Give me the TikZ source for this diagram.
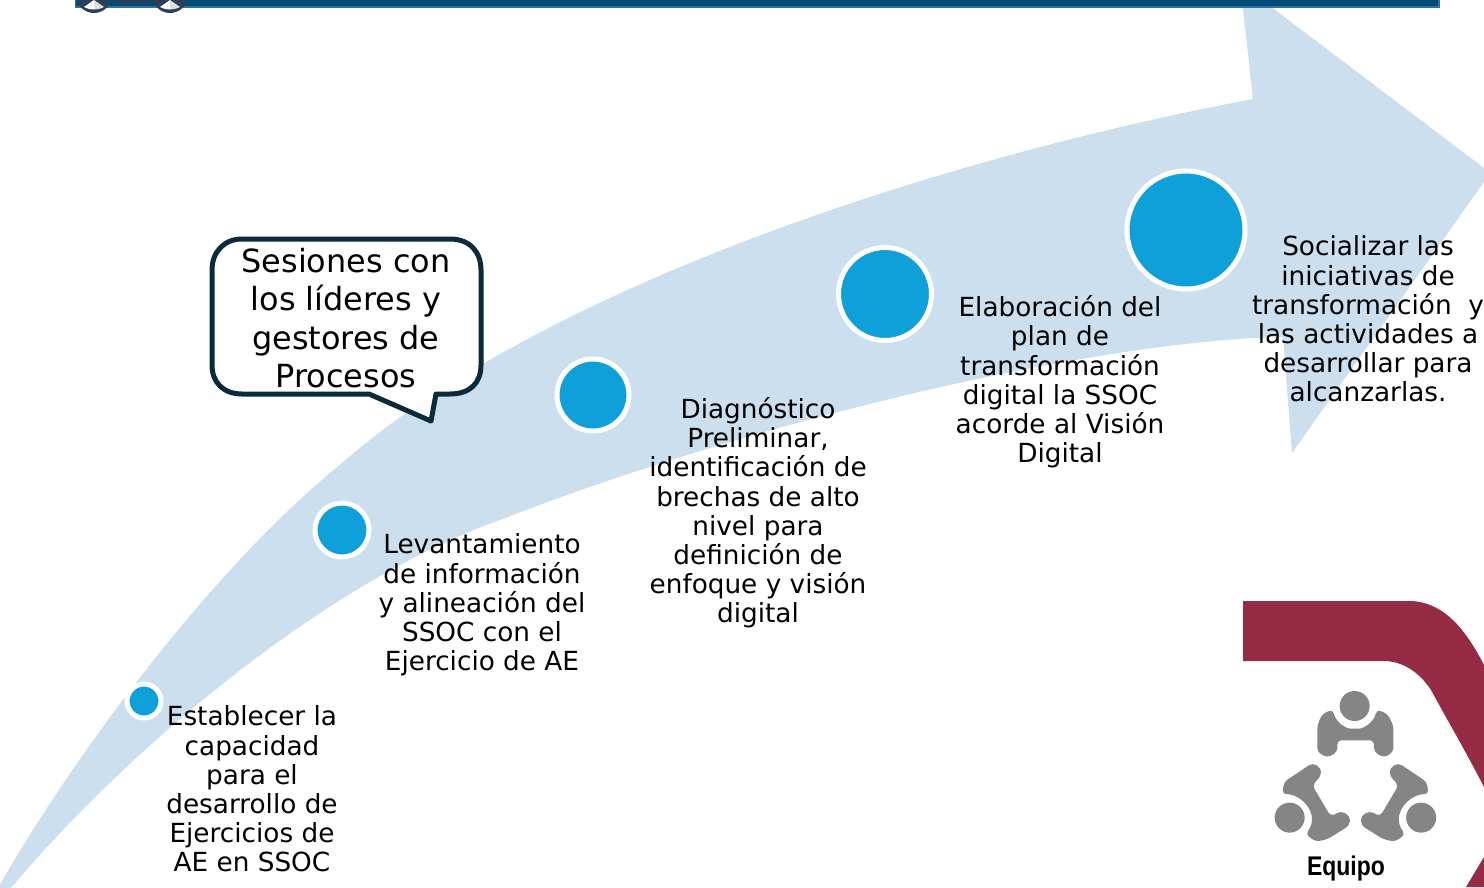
\documentclass[tikz,border=0pt]{standalone}
\usepackage{fontspec}
\setmainfont{DejaVu Sans}
\newfontfamily\equipofont{Liberation Sans}
\definecolor{arrowblue}{HTML}{CCDFEE}
\definecolor{dotblue}{HTML}{0F9FD9}
\definecolor{barblue}{HTML}{004B78}
\definecolor{baredge}{HTML}{2F7299}
\definecolor{calloutline}{HTML}{0B2A3C}
\definecolor{wine}{HTML}{952B45}
\definecolor{icongrey}{HTML}{858585}
\definecolor{wheel}{HTML}{2A3F58}
\tikzset{
  dot/.style={circle,fill=dotblue,draw=white,line width=5pt,inner sep=0pt},
  lbl/.style={align=center,inner sep=0pt,font=\fontsize{26.3}{29.2}\selectfont,text=black},
  calltext/.style={align=center,inner sep=0pt,font=\fontsize{31.9}{38.2}\selectfont,text=black}
}
\newcommand{\personshape}{%
  \fill[icongrey,rounded corners=4pt] (412,565) -- (410,542) -- (385,528) -- (300,585) -- (295,622)
     .. controls (350,620) and (410,680) .. (365,742) -- (395,764) -- (430,757)
     -- (497,715) -- (498,688) -- (472,672) -- (440,688) -- (385,595) -- cycle;
  \fill[icongrey] (317,692) circle (45);
}
\begin{document}
\begin{tikzpicture}[x=1pt,y=-1pt]
\useasboundingbox (0,0) rectangle (1484,887);
\clip (0,0) rectangle (1484,887);
\fill[white] (0,0) rectangle (1484,887);
% big arrow
\fill[arrowblue] (-6,895) .. controls (70,760) and (210,570) .. (342,463)
  .. controls (540,290) and (930,160) .. (1253,99)
  -- (1242,0) -- (1262,0) -- (1484,168) -- (1484,182) -- (1292,453) -- (1283,337) -- (1253,338)
  .. controls (1050,350) and (730,430) .. (500,520)
  .. controls (330,580) and (130,745) .. (5,895) -- cycle;
% top bar
\fill[barblue,draw=baredge,line width=1.5pt] (75.5,-4) rectangle (1439,7);
\fill[wheel] (115,-4) rectangle (152,3);
\foreach \cx in {94,170}{
  \fill[wheel] (\cx,-5) circle (18);
  \fill[white] (\cx,0) -- (\cx-10,7) .. controls (\cx-6,9) and (\cx-3,9.5) .. (\cx,9.5) -- cycle;
  \fill[white!75!gray] (\cx,0) -- (\cx+10,7) .. controls (\cx+6,9) and (\cx+3,9.5) .. (\cx,9.5) -- cycle;
}
% logo band
\fill[wine] (1243,601) -- (1412,601) .. controls (1440,603) and (1462,622) .. (1484,665)
  -- (1484,787) .. controls (1465,750) and (1450,725) .. (1431,690)
  .. controls (1418,670) and (1400,661) .. (1384,661) -- (1243,661) -- cycle;
\fill[wine] (1484,857) -- (1466,887) -- (1484,887) -- cycle;
% team icon
\begin{scope}[shift={(1184,587)},x=0.3333pt,y=-0.3333pt]
  \fill[icongrey] (512,357) circle (45);
  \fill[icongrey,rounded corners=4pt] (400,495) -- (400,415) -- (415,380) -- (447,368)
    .. controls (455,405) and (485,425) .. (512,425)
    .. controls (540,425) and (570,405) .. (578,368) -- (610,380) -- (628,415) -- (628,495)
    -- (600,512) -- (570,495) -- (570,460) -- (460,460) -- (460,495) -- (430,512) -- cycle;
  \personshape
  \begin{scope}[xscale=-1,xshift=-342.8pt]
    \personshape
  \end{scope}
\end{scope}
\node[font=\equipofont\bfseries\fontsize{27}{30}\selectfont,inner sep=0pt,xscale=.85,text=black] (equipo) at (1346,869) {Equipo};
% callout
\draw[calloutline,fill=white,line width=5pt,line join=round] (242,239) -- (450,239)
  .. controls (470,239) and (481,252) .. (481,270) -- (481,365)
  .. controls (481,383) and (470,394) .. (450,394) -- (436,394) -- (431,421) -- (369,394) -- (242,394)
  .. controls (224,394) and (212,383) .. (212,365) -- (212,270)
  .. controls (212,252) and (224,239) .. (242,239) -- cycle;
\node[calltext] (call) at (346,318) {Sesiones con\\los líderes y\\gestores de\\Procesos};
% dots
\node[dot,minimum size=34pt] (d1) at (144,701) {};
\node[dot,minimum size=54pt] (d2) at (342,530) {};
\node[dot,minimum size=72pt] (d3) at (593,395) {};
\node[dot,minimum size=93pt] (d4) at (885,294) {};
\node[dot,minimum size=118pt] (d5) at (1186,230) {};
% labels
\node[lbl] (t1) at (252,789) {Establecer la\\capacidad\\para el\\desarrollo de\\Ejercicios de\\AE en SSOC};
\node[lbl] (t2) at (482,605) {Levantamiento\\de información\\y alineación del\\SSOC con el\\Ejercicio de AE};
\node[lbl] (t3) at (758,513) {Diagnóstico\\Preliminar,\\identificación de\\brechas de alto\\nivel para\\definición de\\enfoque y visión\\digital};
\node[lbl] (t4) at (1060,382) {Elaboración del\\plan de\\transformación\\digital la SSOC\\acorde al Visión\\Digital};
\node[lbl] (t5) at (1368,319) {Socializar las\\iniciativas de\\transformación\ \ y\\las actividades a\\desarrollar para\\alcanzarlas.};
\end{tikzpicture}
\end{document}
